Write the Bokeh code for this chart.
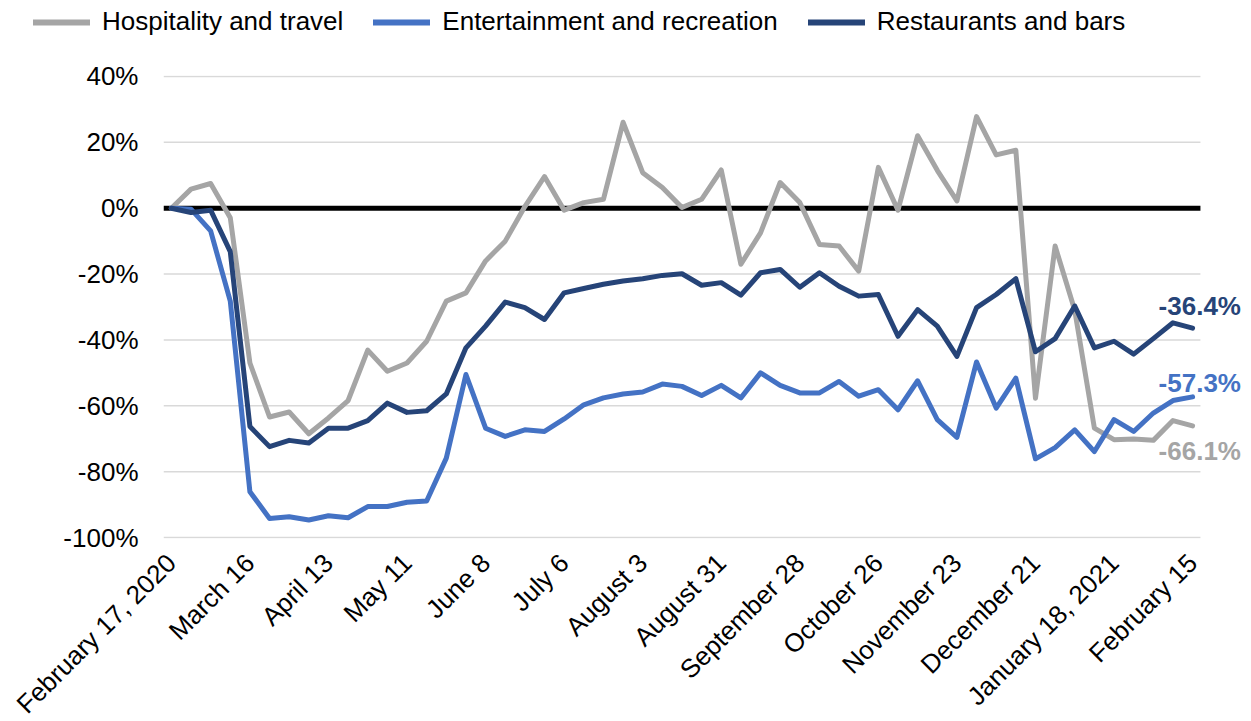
import math
from bokeh.plotting import figure
from bokeh.models import Range1d, FixedTicker, Legend, LegendItem, Label
from bokeh.embed import file_html
from bokeh.resources import INLINE

# ---- data (weekly, % change) ----
tick_labels = ["February 17, 2020", "March 16", "April 13", "May 11", "June 8", "July 6",
               "August 3", "August 31", "September 28", "October 26", "November 23",
               "December 21", "January 18, 2021", "February 15"]

hospitality = [0, 5.8, 7.5, -2.9, -47.0, -63.4, -61.9, -68.5, -63.7, -58.4,
               -43.1, -49.5, -47.0, -40.4, -28.2, -25.7, -16.0, -10.0, 0.5, 9.6,
               -0.6, 1.7, 2.7, 26.1, 10.8, 6.3, 0.2, 2.7, 11.6, -17.0,
               -7.5, 7.8, 1.7, -11.0, -11.5, -19.1, 12.4, -0.6, 22.0, 11.5,
               2.2, 27.8, 16.2, 17.6, -57.7, -11.5, -31.0, -66.8, -70.3, -70.1,
               -70.5, -64.5, -66.1]

entertainment = [0, -0.3, -6.9, -28.2, -86.1, -94.2, -93.7, -94.7, -93.4, -94.0,
                 -90.6, -90.6, -89.3, -88.9, -75.9, -50.5, -66.8, -69.3, -67.3, -67.8,
                 -64.0, -59.7, -57.6, -56.4, -55.8, -53.4, -54.1, -56.9, -53.8, -57.6,
                 -50.0, -53.8, -56.1, -56.1, -52.6, -57.1, -55.1, -61.2, -52.4, -64.2,
                 -69.6, -46.7, -60.7, -51.6, -76.1, -72.7, -67.3, -73.9, -64.2, -67.8,
                 -62.2, -58.4, -57.3]

restaurants = [0, -1.3, -0.6, -13.2, -66.3, -72.4, -70.5, -71.3, -66.8, -66.8,
               -64.5, -59.2, -62.0, -61.5, -56.4, -42.4, -35.8, -28.5, -30.2, -33.8,
               -25.7, -24.4, -23.1, -22.1, -21.4, -20.4, -19.9, -23.4, -22.6, -26.4,
               -19.6, -18.6, -24.0, -19.6, -23.7, -26.7, -26.2, -38.9, -30.8, -35.8,
               -45.0, -30.2, -26.2, -21.4, -43.6, -39.6, -29.7, -42.4, -40.4, -44.3,
               -39.6, -34.8, -36.4]

series_names = ["Hospitality and travel", "Entertainment and recreation", "Restaurants and bars"]
y_ticks = [-100, -80, -60, -40, -20, 0, 20, 40]

x = list(range(len(hospitality)))
FONT = "Liberation Sans"
colors = ["#A5A5A5", "#4472C4", "#264478"]
LW = 5

x_lo = -0.4
x_hi = len(x) - 1 + 0.4

# ---------- main chart ----------
p = figure(frame_width=1088, frame_height=463, output_backend="svg", toolbar_location=None,
           x_range=Range1d(x_lo, len(x) - 1 + 3.0), y_range=Range1d(-100.3, 40.3),
           min_border_left=163, min_border_right=0, min_border_top=15, min_border_bottom=0)
p.outline_line_color = None
p.background_fill_color = "white"
p.border_fill_color = "white"

p.yaxis.ticker = FixedTicker(ticks=y_ticks)
p.yaxis.major_label_overrides = {t: f"{t}%" for t in y_ticks}
p.yaxis.axis_line_color = None
p.yaxis.major_tick_line_color = None
p.yaxis.major_tick_out = 0
p.yaxis.major_tick_in = 0
p.yaxis.minor_tick_line_color = None
p.yaxis.major_label_standoff = 25
p.yaxis.major_label_text_font = FONT
p.yaxis.major_label_text_font_size = "26px"
p.yaxis.major_label_text_color = "black"

tick_pos = list(range(0, len(x), 4))
p.xaxis.ticker = FixedTicker(ticks=tick_pos)
p.xaxis.major_label_overrides = {t: lab for t, lab in zip(tick_pos, tick_labels)}
p.xaxis.major_label_orientation = math.pi / 4
p.xaxis.axis_line_color = None
p.xaxis.major_tick_line_color = None
p.xaxis.major_tick_out = 0
p.xaxis.major_tick_in = 0
p.xaxis.minor_tick_line_color = None
p.xaxis.major_label_standoff = 20
p.xaxis.major_label_text_font = FONT
p.xaxis.major_label_text_font_size = "26px"
p.xaxis.major_label_text_color = "black"

p.grid.grid_line_color = None

# horizontal gridlines over the category area, then the zero axis line
grid_y = [t for t in y_ticks if t != 0]
p.segment(x0=[x_lo] * len(grid_y), x1=[x_hi] * len(grid_y), y0=grid_y, y1=grid_y,
          line_color="#D9D9D9", line_width=1.5)
p.segment(x0=[x_lo], x1=[x_hi], y0=[0], y1=[0], line_color="black", line_width=5)

for vals, col in zip([hospitality, entertainment, restaurants], colors):
    p.line(x, vals, line_color=col, line_width=LW, line_join="round", line_cap="round")

# end labels
offsets = [-25.6, 13.5, 22]
for vals, col, off in zip([hospitality, entertainment, restaurants], colors, offsets):
    last = vals[-1]
    p.add_layout(Label(x=x[-1], y=last, text=f"{last:.1f}%", x_offset=-34, y_offset=off,
                       text_align="left", text_baseline="middle", text_color=col,
                       text_font=FONT, text_font_size="26px", text_font_style="bold"))

# ---------- legend strip (separate root so its frame is not aligned) ----------
lg = figure(width=1251, height=60, output_backend="svg", toolbar_location=None,
            x_range=Range1d(0, 1), y_range=Range1d(0, 1), x_axis_type=None, y_axis_type=None,
            min_border=0)
lg.outline_line_color = None
lg.grid.grid_line_color = None
nan = float("nan")
leg_renderers = [lg.line([nan], [nan], line_color=col, line_width=LW + 1, line_cap="round")
                 for col in colors]
legend = Legend(items=[LegendItem(label=n, renderers=[r]) for n, r in zip(series_names, leg_renderers)],
                orientation="horizontal", location=(33, 23),
                glyph_width=57, glyph_height=20, label_standoff=12, spacing=30,
                padding=0, margin=0, border_line_color=None, background_fill_alpha=0,
                label_text_font=FONT, label_text_font_size="26px", label_text_color="black")
lg.add_layout(legend, "center")

open("out.html", "w").write(file_html([lg, p], INLINE))
